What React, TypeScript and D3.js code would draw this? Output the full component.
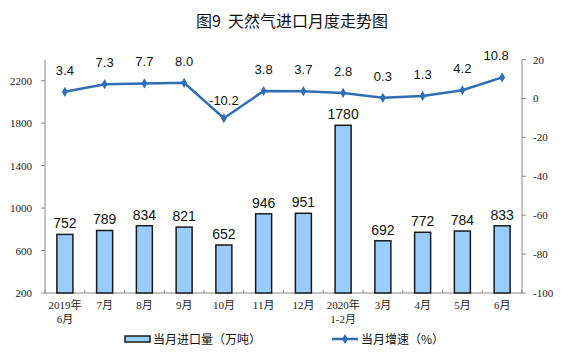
import React from "react";
import * as d3 from "d3";

const categories = ["2019年|6月", "7月", "8月", "9月", "10月", "11月", "12月", "2020年|1-2月", "3月", "4月", "5月", "6月"];
const importVolume = [752, 789, 834, 821, 652, 946, 951, 1780, 692, 772, 784, 833];
const growthRate = [3.4, 7.3, 7.7, 8.0, -10.2, 3.8, 3.7, 2.8, 0.3, 1.3, 4.2, 10.8];
const leftTicks = [200, 600, 1000, 1400, 1800, 2200];
const rightTicks = [20, 0, -20, -40, -60, -80, -100];
const titleA = "图9";
const titleB = "天然气进口月度走势图";
const barLegend = "当月进口量（万吨）";
const lineLegend = "当月增速（%）";

const W = 564, H = 357;
const left = 45, right = 522, top = 59.5, bottom = 293;

export default function App() {
  const x = d3.scaleBand<number>().domain(d3.range(categories.length)).range([left, right]).paddingInner(0).paddingOuter(0);
  const yL = d3.scaleLinear().domain([200, 2400]).range([bottom, top]);
  const yR = d3.scaleLinear().domain([-100, 20]).range([bottom, top]);
  const cx = (i: number) => x(i)! + x.bandwidth() / 2;
  const barW = 16;
  const line = d3.line<number>().x((_, i) => cx(i)).y((d) => yR(d));
  const serif = "'Liberation Serif', 'DejaVu Serif', 'Noto Sans CJK SC', serif";
  const cjk = "'Noto Sans CJK SC', sans-serif";
  const sans = "'Liberation Sans', Arial, sans-serif";
  const lineColor = "#2f6db5";
  const diamond = d3.symbol().type(d3.symbolDiamond).size(30)()!;

  return (
    <svg width={W} height={H} style={{ position: "absolute", left: 0, top: 0, background: "#fff" }}>
      <text x={292} y={27} textAnchor="middle" fontFamily={cjk} fontSize={16} fontWeight={400} fill="#111">
        <tspan>{titleA}</tspan>
        <tspan dx={7}>{titleB}</tspan>
      </text>

      {/* axes */}
      <line x1={left} x2={left} y1={top} y2={bottom} stroke="#888" />
      <line x1={right} x2={right} y1={top} y2={bottom} stroke="#888" />
      <line x1={left} x2={right} y1={bottom} y2={bottom} stroke="#888" />
      {leftTicks.map((t) => (
        <g key={"l" + t}>
          <line x1={left - 4} x2={left} y1={yL(t)} y2={yL(t)} stroke="#888" />
          <text x={32} y={yL(t) + 4} textAnchor="end" fontFamily={serif} fontSize={11} fill="#222">{t}</text>
        </g>
      ))}
      {rightTicks.map((t) => (
        <g key={"r" + t}>
          <line x1={right} x2={right + 4} y1={yR(t)} y2={yR(t)} stroke="#888" />
          <text x={533} y={yR(t) + 4} textAnchor="start" fontFamily={serif} fontSize={11} fill="#222">{t}</text>
        </g>
      ))}
      {d3.range(categories.length + 1).map((i) => {
        const xx = i < categories.length ? x(i)! : right;
        return <line key={"bt" + i} x1={xx} x2={xx} y1={bottom} y2={bottom - 3} stroke="#888" />;
      })}

      {/* bars */}
      {importVolume.map((v, i) => (
        <g key={"b" + i}>
          <rect x={cx(i) - barW / 2} y={yL(v)} width={barW} height={bottom - yL(v)} fill="#99ccff" stroke="#1a1a1a" strokeWidth={1.5} />
          <text x={cx(i)} y={yL(v) - 6} textAnchor="middle" fontFamily={sans} fontSize={14} fill="#111">{v}</text>
        </g>
      ))}

      {/* line */}
      <path d={line(growthRate)!} fill="none" stroke={lineColor} strokeWidth={2.5} />
      {growthRate.map((v, i) => (
        <g key={"p" + i}>
          <path d={diamond} transform={`translate(${cx(i)},${yR(v)})`} fill={lineColor} />
          <text x={cx(i) + (i === 11 ? -6 : 0)} y={yR(v) - (i === 4 ? 13 : 17)} textAnchor="middle" fontFamily={sans} fontSize={13} fill="#111">{v.toFixed(1)}</text>
        </g>
      ))}

      {/* category labels */}
      {categories.map((c, i) => (
        <text key={"c" + i} x={cx(i)} y={309} textAnchor="middle" fontFamily={serif} fontSize={11} fill="#222">
          {c.split("|").map((s, j) => (
            <tspan key={j} x={cx(i)} dy={j === 0 ? 0 : 14}>{s}</tspan>
          ))}
        </text>
      ))}

      {/* legend */}
      <rect x={125} y={336} width={25} height={6} fill="#99ccff" stroke="#1a1a1a" strokeWidth={1.5} />
      <text x={153} y={344} fontFamily={cjk} fontSize={12} fill="#111">{barLegend}</text>
      <line x1={332} x2={358} y1={339} y2={339} stroke={lineColor} strokeWidth={2.5} />
      <path d={diamond} transform="translate(345,339)" fill={lineColor} />
      <text x={361} y={344} fontFamily={cjk} fontSize={12} fill="#111">{lineLegend}</text>
    </svg>
  );
}
